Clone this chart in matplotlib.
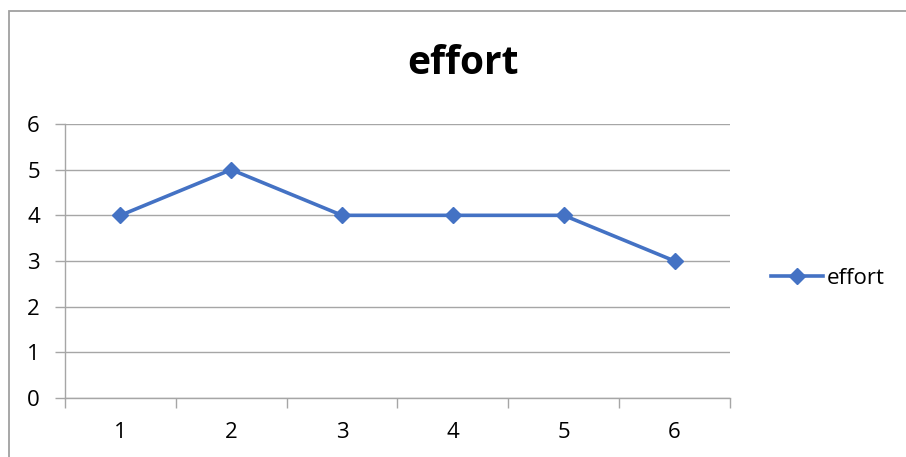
import matplotlib
matplotlib.use("Agg")
import matplotlib.pyplot as plt
from matplotlib.patches import Rectangle
from matplotlib.lines import Line2D

categories = [1, 2, 3, 4, 5, 6]
effort = [4, 5, 4, 4, 4, 3]
y_ticks = [0, 1, 2, 3, 4, 5, 6]
series_name = "effort"

W, H = 906, 457
DPI = 100
LINE_COLOR = "#4472C4"
GRID_COLOR = "#A6A6A6"
FONT = ["Open Sans", "DejaVu Sans"]

plt.rcParams["font.family"] = FONT

fig = plt.figure(figsize=(W / DPI, H / DPI), dpi=DPI)
fig.patch.set_facecolor("white")

# chart frame (extends past the lower/right edge)
fig.add_artist(Rectangle((9 / W, -0.1), 1.2, 1 - 11 / H + 0.1,
                         transform=fig.transFigure, fill=False,
                         edgecolor="#A0A0A0", linewidth=1.3))

left, right, top, bottom = 65, 730, 124, 398
ax = fig.add_axes([left / W, 1 - bottom / H, (right - left) / W, (bottom - top) / H])

x = list(range(1, len(categories) + 1))
ax.plot(x, effort, color=LINE_COLOR, linewidth=2.6, marker="D",
        markersize=8, markerfacecolor=LINE_COLOR, markeredgecolor=LINE_COLOR,
        zorder=3, clip_on=False)

ax.set_xlim(0.5, len(categories) + 0.5)
ax.set_ylim(0, 6)
ax.set_yticks(y_ticks)
ax.set_yticklabels([str(v) for v in y_ticks])
ax.set_xticks(x)
ax.set_xticklabels([str(c) for c in categories])
ax.set_xticks([i + 0.5 for i in range(len(categories) + 1)], minor=True)

ax.grid(axis="y", color=GRID_COLOR, linewidth=1.0)
ax.set_axisbelow(True)
for s in ["top", "right"]:
    ax.spines[s].set_visible(False)
for s in ["left", "bottom"]:
    ax.spines[s].set_color(GRID_COLOR)
    ax.spines[s].set_linewidth(1.0)

ax.tick_params(axis="y", length=7, width=1.0, color=GRID_COLOR, pad=11,
               labelsize=16, labelcolor="black")
ax.tick_params(axis="x", which="major", length=0, pad=17,
               labelsize=16, labelcolor="black")
ax.tick_params(axis="x", which="minor", length=7, width=1.0, color=GRID_COLOR)

fig.text(463 / W, 1 - 63 / H, "effort", ha="center", va="center",
         fontsize=28, fontweight="bold", color="black")

handle = Line2D([], [], color=LINE_COLOR, linewidth=2.6, marker="D",
                markersize=8, markerfacecolor=LINE_COLOR, markeredgecolor=LINE_COLOR)
fig.legend([handle], [series_name], loc="center left",
           bbox_to_anchor=(760 / W, 1 - 278 / H), frameon=False,
           fontsize=16, handlelength=2.35, handletextpad=0.15, borderpad=0)

fig.savefig("out.png", dpi=DPI, facecolor="white")
